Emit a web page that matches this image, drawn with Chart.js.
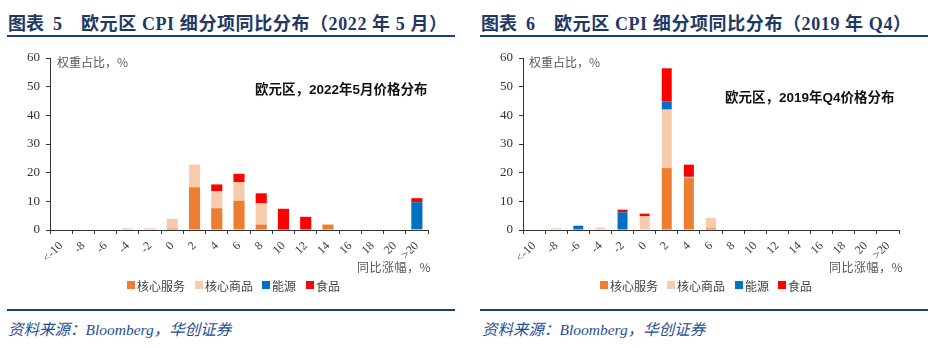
<!DOCTYPE html>
<html><head><meta charset="utf-8">
<script src="https://cdn.jsdelivr.net/npm/chart.js@4/dist/chart.umd.min.js"></script>
<style>
html,body{margin:0;padding:0;background:#fff;}
body{width:940px;height:348px;position:relative;overflow:hidden;font-family:"Liberation Sans","Noto Sans CJK SC",sans-serif;}
.abs{position:absolute;white-space:nowrap;}
.title{font-family:"Liberation Serif","Noto Sans CJK SC",serif;font-weight:bold;font-size:18px;color:#1F3864;top:9px;}
.title span{display:inline-block;}
.rule{position:absolute;height:2px;background:#123F80;}
.src{font-family:"Liberation Serif","Noto Sans CJK SC",serif;font-style:italic;font-size:15.5px;color:#1F4E9B;top:317px;}
.note{font-size:12px;color:#595959;font-family:"Noto Sans CJK SC",sans-serif;}
.inner{font-size:13.5px;font-weight:bold;color:#111;font-family:"Liberation Sans","Noto Sans CJK SC",sans-serif;}
.lg{font-size:12px;color:#404040;font-family:"Noto Sans CJK SC",sans-serif;top:277px;}
.sq{position:absolute;width:8px;height:8px;top:281px;}
canvas{position:absolute;}
</style></head>
<body>
<div class="abs title" style="left:8px;">图表<span style="margin-left:9px;">5</span><span style="margin-left:19px;letter-spacing:0.6px;">欧元区 CPI 细分项同比分布（2022 年 5 月）</span></div>
<div class="abs title" style="left:481px;">图表<span style="margin-left:9px;">6</span><span style="margin-left:19px;letter-spacing:0.6px;">欧元区 CPI 细分项同比分布（2019 年 Q4）</span></div>
<div class="rule" style="left:7px;width:448px;top:35px;"></div>
<div class="rule" style="left:480px;width:448px;top:35px;"></div>

<canvas id="c1" width="470" height="240" style="left:0;top:40px;width:470px;height:240px;"></canvas>
<canvas id="c2" width="470" height="240" style="left:470px;top:40px;width:470px;height:240px;"></canvas>

<div class="abs note" style="left:57px;top:53px;">权重占比，%</div>
<div class="abs note" style="left:529px;top:53px;">权重占比，%</div>
<div class="abs inner" style="left:255px;top:78px;">欧元区，2022年5月价格分布</div>
<div class="abs inner" style="left:725px;top:86px;">欧元区，2019年Q4价格分布</div>
<div class="abs note" style="left:357px;top:258px;letter-spacing:0.5px;">同比涨幅，%</div>
<div class="abs note" style="left:829px;top:258px;letter-spacing:0.5px;">同比涨幅，%</div>

<div id="lg1"></div><div id="lg2"></div>

<div class="rule" style="left:7px;width:448px;top:309px;"></div>
<div class="rule" style="left:480px;width:448px;top:309px;"></div>
<div class="abs src" style="left:8px;">资料来源：Bloomberg，华创证券</div>
<div class="abs src" style="left:482px;">资料来源：Bloomberg，华创证券</div>

<script>
const categories = ["<-10","-8","-6","-4","-2","0","2","4","6","8","10","12","14","16","18","20",">20"];
const seriesNames = ["核心服务","核心商品","能源","食品"];
const seriesColors = ["#ED7D31","#F8CBAD","#0070C0","#FF0000"];
const yTicks = [0,10,20,30,40,50,60];

// 2022年5月
const may22_services = [0,0,0,0,0,0.5,14.9,7.6,10.2,1.9,0,0,1.9,0,0,0,0.3];
const may22_goods    = [0,0,0,0.6,0.6,3.4,7.9,6.0,6.5,7.4,0,0,0,0,0,0,0];
const may22_energy   = [0,0,0,0,0,0,0,0,0,0,0,0,0,0,0,0,9.4];
const may22_food     = [0,0,0,0,0,0,0,2.3,2.9,3.5,7.4,4.6,0,0,0,0,1.4];

// 2019年Q4
const q419_services = [0,0,0,0,0,0,21.6,18.1,0.6,0,0,0,0,0,0,0,0];
const q419_goods    = [0,0.6,0,0.8,0,4.8,20.4,0.2,3.6,0,0,0,0,0,0,0,0];
const q419_energy   = [0,0,1.5,0,6.2,0,2.9,0.3,0,0,0,0,0,0,0,0,0];
const q419_food     = [0,0,0,0,0.9,0.9,11.5,4.2,0,0,0,0,0,0,0,0,0];

function makeChart(id, data, yWidth, padRight, barPct){
  const sets = data.map((d,i)=>({
    label: seriesNames[i], data: d, backgroundColor: seriesColors[i],
    borderWidth: 0, barPercentage: barPct, categoryPercentage: 1.0, stack: 's'
  }));
  return new Chart(document.getElementById(id), {
    type: 'bar',
    data: { labels: categories, datasets: sets },
    options: {
      responsive: false, animation: false,
      layout: { padding: { top: 18, right: padRight, left: 0, bottom: 0 } },
      plugins: { legend: { display: false }, tooltip: { enabled: false } },
      scales: {
        x: {
          stacked: true,
          grid: { display: true, drawOnChartArea: false, offset: true, tickLength: 4, color: '#333' },
          border: { color: '#333', width: 1 },
          ticks: { minRotation: 45, maxRotation: 45, color: '#404040', padding: 5,
                   font: { family: 'Liberation Serif', size: 12 }, autoSkip: false },
          afterFit: s => { s.height = 50; }
        },
        y: {
          stacked: true, min: 0, max: 60,
          afterBuildTicks: s => { s.ticks = yTicks.map(v=>({value:v})); },
          grid: { display: true, drawOnChartArea: false, tickLength: 4, color: '#333' },
          border: { color: '#333', width: 1 },
          ticks: { color: '#333', padding: 6, font: { family: 'Liberation Serif', size: 13 } },
          afterFit: s => { s.width = yWidth; }
        }
      }
    }
  });
}
makeChart('c1', [may22_services, may22_goods, may22_energy, may22_food], 50, 42, 0.5);
makeChart('c2', [q419_services, q419_goods, q419_energy, q419_food], 53, 41, 0.45);

function legend(id, xs){
  const el = document.getElementById(id);
  let h = '';
  seriesNames.forEach((n,i)=>{
    h += `<div class="sq" style="left:${xs[i]}px;background:${seriesColors[i]}"></div>`;
    h += `<div class="abs lg" style="left:${xs[i]+10}px;">${n}</div>`;
  });
  el.innerHTML = h;
}
legend('lg1', [127,195,262,306]);
legend('lg2', [600,667,735,778]);
</script>
</body></html>
